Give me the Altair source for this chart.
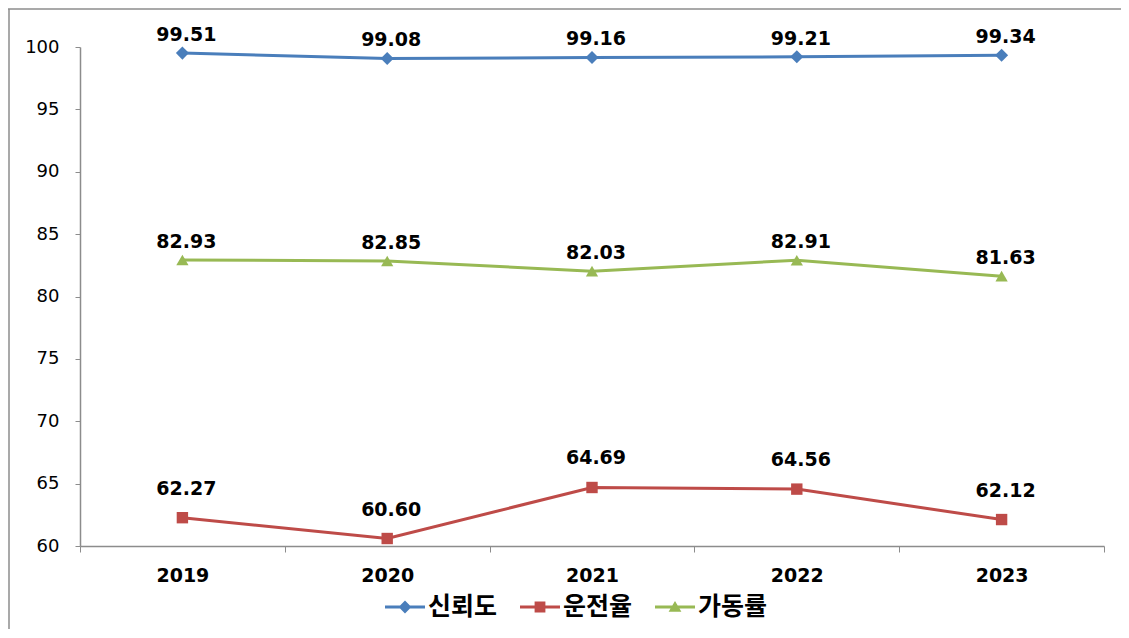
import altair as alt
import pandas as pd

years = ["2019", "2020", "2021", "2022", "2023"]
series_names = ["신뢰도", "운전율", "가동률"]
reliability = [99.51, 99.08, 99.16, 99.21, 99.34]
operation = [62.27, 60.60, 64.69, 64.56, 62.12]
availability = [82.93, 82.85, 82.03, 82.91, 81.63]
colors = ["#4A7EBB", "#BE4B48", "#98B954"]
y_ticks = [60, 65, 70, 75, 80, 85, 90, 95, 100]

rows = []
for name, vals in zip(series_names, [reliability, operation, availability]):
    for yr, v in zip(years, vals):
        rows.append({"year": yr, "series": name, "value": v})
df = pd.DataFrame(rows)

FONT = "DejaVu Sans"
KFONT = "Noto Sans CJK KR"

x_enc = alt.X("year:O", title=None, bandPosition=0.5,
              scale=alt.Scale(type="band", paddingInner=0, paddingOuter=0),
              axis=alt.Axis(labelAngle=0, labelFont=FONT, labelFontSize=19,
                            labelFontWeight="bold", labelColor="#000000",
                            tickBand="extent", tickSize=6, labelPadding=14,
                            domainColor="#8C8C8C", tickColor="#8C8C8C",
                            domainWidth=1.5, grid=False))
y_enc = alt.Y("value:Q", title=None,
              scale=alt.Scale(domain=[60, 100], nice=False, zero=False),
              axis=alt.Axis(values=y_ticks, labelFont=FONT, labelFontSize=18,
                            labelColor="#000000", tickSize=5, labelPadding=16,
                            domainColor="#8C8C8C", tickColor="#8C8C8C",
                            domainWidth=1.5, grid=False))
color_scale = alt.Scale(domain=series_names, range=colors)

base = alt.Chart(df)

lines = base.mark_line(strokeWidth=3).encode(
    x=x_enc, y=y_enc,
    color=alt.Color("series:N", scale=color_scale, legend=None),
    detail="series:N",
)

shapes = ["diamond", "square", "triangle-up"]
sizes = [170, 130, 150]
point_layers = []
for name, shp, sz in zip(series_names, shapes, sizes):
    point_layers.append(
        base.transform_filter(alt.datum.series == name)
        .mark_point(filled=True, shape=shp, size=sz, opacity=1)
        .encode(x=x_enc, y=y_enc,
                color=alt.Color("series:N", scale=color_scale, legend=None))
    )

labels_top = base.transform_filter(alt.datum.series != "운전율").mark_text(
    font=FONT, fontSize=19, fontWeight="bold", color="#000000", dy=-18, dx=4
).encode(x=x_enc, y=y_enc, text=alt.Text("value:Q", format=".2f"))

labels_red = base.transform_filter(alt.datum.series == "운전율").mark_text(
    font=FONT, fontSize=19, fontWeight="bold", color="#000000", dy=-29, dx=4
).encode(x=x_enc, y=y_enc, text=alt.Text("value:Q", format=".2f"))

legend_paths = [
    "M-1,-0.075L1,-0.075L1,0.075L-1,0.075Z M0,-0.32L0.32,0L0,0.32L-0.32,0Z",
    "M-1,-0.075L1,-0.075L1,0.075L-1,0.075Z M-0.27,-0.27L0.27,-0.27L0.27,0.27L-0.27,0.27Z",
    "M-1,-0.075L1,-0.075L1,0.075L-1,0.075Z M0,-0.3L0.32,0.24L-0.32,0.24Z",
]
legend_opts = dict(title=None, orient="none", direction="horizontal",
                   legendX=305, legendY=540,
                   symbolSize=1600, symbolOpacity=1,
                   labelFont=KFONT, labelFontSize=25,
                   labelFontWeight="bold", labelColor="#000000",
                   columnPadding=22, labelOffset=3, padding=0,
                   symbolStrokeWidth=0)
legend_layer = base.mark_point(filled=True, opacity=0).encode(
    x=x_enc, y=y_enc,
    color=alt.Color("series:N", scale=color_scale, legend=alt.Legend(**legend_opts)),
    shape=alt.Shape("series:N", scale=alt.Scale(domain=series_names, range=legend_paths),
                    legend=alt.Legend(**legend_opts)),
)

frame_df = pd.DataFrame({"a": [0]})
frame_top = alt.Chart(frame_df).mark_rule(color="#8C8C8C", strokeWidth=1.5).encode(
    x=alt.value(-72), x2=alt.value(1100), y=alt.value(-38))
frame_left = alt.Chart(frame_df).mark_rule(color="#8C8C8C", strokeWidth=1.5).encode(
    x=alt.value(-71), y=alt.value(-38), y2=alt.value(700))

chart = alt.layer(frame_top, frame_left, lines, *point_layers, labels_top, labels_red,
                  legend_layer).resolve_scale(
    color="independent", shape="independent"
).properties(
    width=1024, height=499,
    background="#FFFFFF",
    autosize=alt.AutoSizeParams(type="none"),
    padding={"left": 72, "top": 39, "right": 17, "bottom": 83},
).configure_view(
    stroke="transparent", strokeWidth=0, strokeOpacity=0
).configure_axis(grid=False, gridOpacity=0)

chart.save("out.html", embed_options={"renderer": "svg", "actions": False})
